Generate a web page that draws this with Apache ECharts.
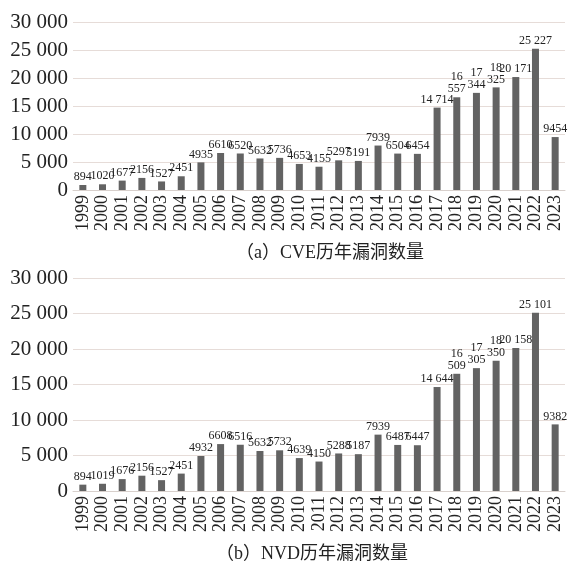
<!DOCTYPE html>
<html>
<head>
<meta charset="utf-8">
<script src="https://cdn.jsdelivr.net/npm/echarts@6/dist/echarts.min.js"></script>
<style>
  html, body { margin: 0; padding: 0; background: #fff; }
  #chart { width: 570px; height: 563px; }
</style>
</head>
<body>
<div id="chart"></div>
<script>
  const years = ['1999', '2000', '2001', '2002', '2003', '2004', '2005', '2006', '2007', '2008', '2009', '2010', '2011',
    '2012', '2013', '2014', '2015', '2016', '2017', '2018', '2019', '2020', '2021', '2022', '2023']
  const cveCounts = [894, 1020, 1677, 2156, 1527, 2451, 4935, 6610, 6520, 5632, 5736, 4653, 4155,
    5297, 5191, 7939, 6504, 6454, 14714, 16557, 17344, 18325, 20171, 25227, 9454]
  const nvdCounts = [894, 1019, 1676, 2156, 1527, 2451, 4932, 6608, 6516, 5632, 5732, 4639, 4150,
    5288, 5187, 7939, 6487, 6447, 14644, 16509, 17305, 18350, 20158, 25101, 9382]
  // labels that the original shows on two lines
  const wrapYears = ['2018', '2019', '2020']
  const titles = ['（a）CVE历年漏洞数量', '（b）NVD历年漏洞数量']

  const serif = '"Liberation Serif", "DejaVu Serif", "Noto Sans CJK SC", serif'
  const gridColor = '#e6dcd8'
  const textColor = '#222'

  function fmt(v) {
    if (v < 10000) return String(v)
    const s = String(v)
    return s.slice(0, s.length - 3) + ' ' + s.slice(-3)
  }

  function barLabel(params) {
    const v = params.value
    if (wrapYears.indexOf(params.name) !== -1) {
      const s = String(v)
      return s.slice(0, s.length - 3) + '\n' + s.slice(-3)
    }
    return fmt(v)
  }

  function xAxis(idx) {
    return {
      type: 'category',
      gridIndex: idx,
      data: years,
      axisTick: {show: false},
      axisLine: {lineStyle: {color: '#d8d0cc'}},
      axisLabel: {
        rotate: 90,
        interval: 0,
        margin: 5,
        fontFamily: serif,
        fontSize: 18,
        color: textColor
      }
    }
  }

  function yAxis(idx) {
    return {
      type: 'value',
      gridIndex: idx,
      min: 0,
      max: 30000,
      interval: 5000,
      axisLine: {show: false},
      axisTick: {show: false},
      splitLine: {lineStyle: {color: gridColor, width: 1}},
      axisLabel: {
        margin: 5,
        fontFamily: serif,
        fontSize: 21,
        color: textColor,
        formatter: v => String(v).replace(/(\d)(\d{3})$/, '$1 $2')
      }
    }
  }

  function barSeries(idx, data) {
    return {
      type: 'bar',
      xAxisIndex: idx,
      yAxisIndex: idx,
      data: data,
      barWidth: 7,
      itemStyle: {color: '#636363'},
      label: {
        show: true,
        position: 'top',
        distance: 2,
        fontFamily: serif,
        fontSize: 12,
        lineHeight: 12,
        color: textColor,
        formatter: barLabel
      }
    }
  }

  const titleStyle = {fontFamily: serif, fontSize: 18, fontWeight: 'normal', color: textColor}

  const chart = echarts.init(document.getElementById('chart'))
  chart.setOption({
    animation: false,
    title: [{
      text: titles[0],
      left: 236,
      top: 244,
      padding: 0,
      textStyle: titleStyle
    }, {
      text: titles[1],
      left: 216,
      top: 545,
      padding: 0,
      textStyle: titleStyle
    }],
    grid: [
      {left: 73, right: 5, top: 22, height: 168},
      {left: 73, right: 5, top: 278, height: 213}
    ],
    xAxis: [xAxis(0), xAxis(1)],
    yAxis: [yAxis(0), yAxis(1)],
    series: [barSeries(0, cveCounts), barSeries(1, nvdCounts)]
  })
</script>
</body>
</html>
